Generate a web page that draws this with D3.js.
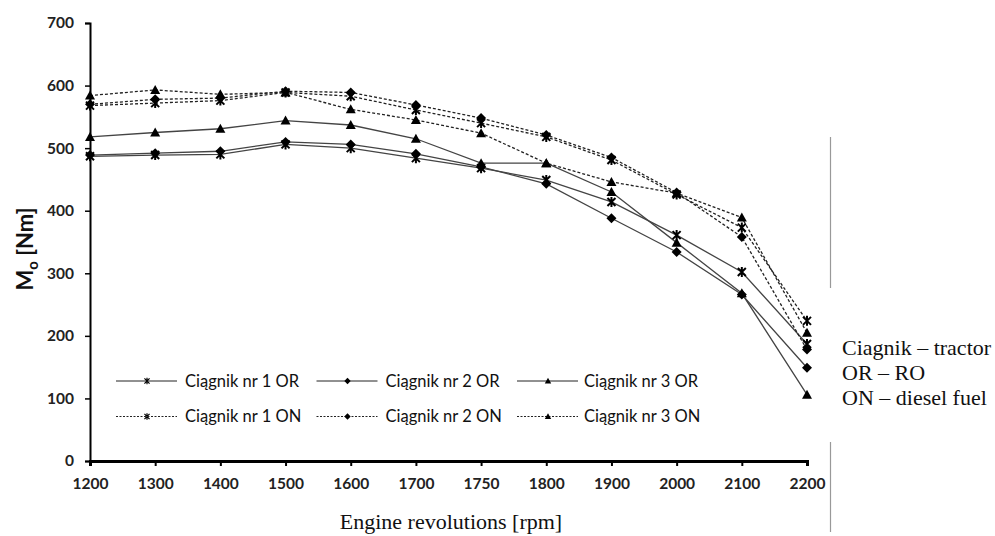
<!DOCTYPE html>
<html>
<head>
<meta charset="utf-8">
<script src="https://cdn.jsdelivr.net/npm/d3@7"></script>
<style>
  html, body { margin: 0; padding: 0; background: #fff; }
  svg { display: block; }
  .tick text { font-family: Lato, "Open Sans", sans-serif; font-weight: bold; font-size: 15.5px; fill: #222; }
  .legend text { font-family: Lato, "Open Sans", sans-serif; font-size: 16.5px; fill: #111; }
  .note { font-family: "Liberation Serif", "Times New Roman", serif; font-size: 22px; fill: #111; }
</style>
</head>
<body>
<div id="chart"></div>
<script>
// engine speed categories (ordinal axis, note the 1750 step)
var rpm = [1200, 1300, 1400, 1500, 1600, 1700, 1750, 1800, 1900, 2000, 2100, 2200];
var yTicks = [0, 100, 200, 300, 400, 500, 600, 700];

// torque Mo [Nm]
var or1 = [487, 489, 490, 506, 500, 484, 468, 449, 414, 361, 302, 187];
var or2 = [489, 492, 495, 510, 506, 491, 470, 443, 388, 334, 266, 149];
var or3 = [518, 525, 531, 544, 537, 515, 476, 476, 430, 349, 268, 106];
var on1 = [568, 572, 576, 589, 583, 561, 540, 518, 481, 426, 373, 224];
var on2 = [570, 578, 580, 591, 589, 569, 548, 521, 485, 429, 358, 178];
var on3 = [584, 593, 586, 589, 562, 545, 524, 476, 446, 428, 389, 205];

var seriesNames = ['Ciągnik nr 1 OR', 'Ciągnik nr 2 OR', 'Ciągnik nr 3 OR',
                   'Ciągnik nr 1 ON', 'Ciągnik nr 2 ON', 'Ciągnik nr 3 ON'];
var seriesValues = [or1, or2, or3, on1, on2, on3];
var seriesMarkers = ['star', 'diamond', 'triangle', 'star', 'diamond', 'triangle'];
var seriesDashed = [false, false, false, true, true, true];

var notes = ['Ciagnik – tractor', 'OR – RO', 'ON – diesel fuel'];

var W = 995, H = 536;
var svg = d3.select('#chart').append('svg')
  .attr('width', W)
  .attr('height', H);

var x = d3.scalePoint().domain(rpm).range([90, 807]);
var y = d3.scaleLinear().domain([0, 700]).range([461, 23]);

// marker drawing: s = half size
function drawMarker(g, type, s, color) {
  if (type === 'diamond') {
    g.append('path')
      .attr('d', 'M0,' + (-s) + 'L' + s + ',0L0,' + s + 'L' + (-s) + ',0Z')
      .attr('fill', color);
  } else if (type === 'triangle') {
    g.append('path')
      .attr('d', 'M0,' + (-s) + 'L' + s + ',' + (s * 0.8) + 'L' + (-s) + ',' + (s * 0.8) + 'Z')
      .attr('fill', color);
  } else {
    var k = s * 0.8;
    g.append('path')
      .attr('d', 'M' + (-k) + ',' + (-k) + 'L' + k + ',' + k +
                 'M' + k + ',' + (-k) + 'L' + (-k) + ',' + k +
                 'M0,' + (-s) + 'L0,' + s)
      .attr('stroke', color)
      .attr('stroke-width', s > 4 ? 2 : 1.2)
      .attr('fill', 'none');
  }
}

// axes
var yAxis = d3.axisLeft(y).tickValues(yTicks).tickSize(5).tickPadding(11);
var gy = svg.append('g')
  .attr('transform', 'translate(90,0)')
  .call(yAxis);
gy.select('.domain').attr('stroke', '#000').attr('stroke-width', 2);
gy.selectAll('.tick line').attr('stroke', '#000').attr('stroke-width', 1.5);

var xAxis = d3.axisBottom(x).tickSize(5).tickPadding(12);
var gx = svg.append('g')
  .attr('transform', 'translate(0,461)')
  .call(xAxis);
gx.select('.domain').attr('stroke', '#000').attr('stroke-width', 3);
gx.selectAll('.tick line').attr('stroke', '#000').attr('stroke-width', 2);

// series lines and markers
var line = d3.line()
  .x(function(d, i) { return x(rpm[i]); })
  .y(function(d) { return y(d); });

seriesValues.forEach(function(vals, k) {
  svg.append('path')
    .datum(vals)
    .attr('d', line)
    .attr('fill', 'none')
    .attr('stroke', seriesDashed[k] ? '#222' : '#444')
    .attr('stroke-width', 1.3)
    .attr('stroke-dasharray', seriesDashed[k] ? '3,2' : null);
});
seriesValues.forEach(function(vals, k) {
  vals.forEach(function(v, i) {
    var g = svg.append('g')
      .attr('transform', 'translate(' + x(rpm[i]) + ',' + y(v) + ')');
    drawMarker(g, seriesMarkers[k], 5, '#000');
  });
});

// legend, 3 columns x 2 rows
var legend = svg.append('g').attr('class', 'legend');
seriesNames.forEach(function(name, k) {
  var col = k % 3, row = Math.floor(k / 3);
  var lx = 116 + col * 200.5, ly = 381 + row * 35.5;
  var g = legend.append('g').attr('transform', 'translate(' + lx + ',' + ly + ')');
  g.append('line')
    .attr('x1', 0).attr('x2', 61)
    .attr('y1', 0).attr('y2', 0)
    .attr('stroke', '#222')
    .attr('stroke-width', 1)
    .attr('stroke-dasharray', seriesDashed[k] ? '2,1.5' : null);
  var m = g.append('g').attr('transform', 'translate(31,0)');
  drawMarker(m, seriesMarkers[k], 3.2, '#000');
  g.append('text')
    .attr('x', col === 2 ? 67 : 69)
    .attr('y', 0)
    .attr('dy', '.35em')
    .text(name);
});

// axis titles
var yt = svg.append('text')
  .attr('transform', 'translate(33,249) rotate(-90)')
  .attr('text-anchor', 'middle')
  .style('font-family', 'Lato, "Open Sans", sans-serif')
  .style('font-weight', 'bold')
  .style('font-size', '22px')
  .attr('fill', '#111');
yt.append('tspan').text('M');
yt.append('tspan').text('o').attr('dy', 5).style('font-size', '15px');
yt.append('tspan').text(' [Nm]').attr('dy', -5);

svg.append('text')
  .attr('class', 'note')
  .attr('x', 451)
  .attr('y', 529)
  .attr('text-anchor', 'middle')
  .style('font-size', '22px')
  .text('Engine revolutions [rpm]');

// side notes and separators
svg.append('line')
  .attr('x1', 830.5).attr('x2', 830.5)
  .attr('y1', 137).attr('y2', 288)
  .attr('stroke', '#999').attr('stroke-width', 1.2);
svg.append('line')
  .attr('x1', 830.5).attr('x2', 830.5)
  .attr('y1', 442).attr('y2', 532)
  .attr('stroke', '#999').attr('stroke-width', 1.2);

notes.forEach(function(t, i) {
  svg.append('text')
    .attr('class', 'note')
    .attr('x', 842)
    .attr('y', 355 + i * 25)
    .text(t);
});
</script>
</body>
</html>
